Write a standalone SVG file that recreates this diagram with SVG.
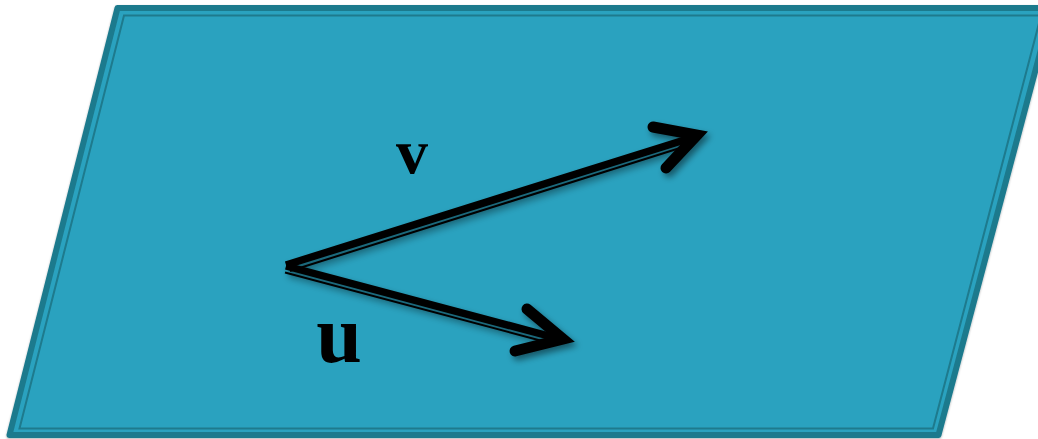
<svg xmlns="http://www.w3.org/2000/svg" width="1038" height="439" viewBox="0 0 1038 439">
<defs>
<filter id="sh" x="-20%" y="-20%" width="140%" height="140%">
<feDropShadow dx="3" dy="4" stdDeviation="3" flood-color="#000" flood-opacity="0.45"/>
</filter>
<filter id="psh" x="-5%" y="-5%" width="110%" height="110%">
<feDropShadow dx="0" dy="1" stdDeviation="1.2" flood-color="#000" flood-opacity="0.3"/>
</filter>
</defs>
<style>
.plane{fill:#2ba2bf;stroke:#1e7a8d;stroke-width:6;stroke-linejoin:round}
.inner{fill:none;stroke:#1e7a8d;stroke-width:2}
.thick{stroke:#000;stroke-width:7.5;stroke-linecap:butt;fill:none}
.thin{stroke:#000;stroke-width:2;fill:none}
.head{stroke:#000;stroke-width:11;stroke-linecap:round;stroke-linejoin:miter;fill:none}
.lbl{font-family:"Liberation Serif",serif;font-weight:bold;fill:#000;text-anchor:middle}
</style>
<g id="plane">
<polygon class="plane" filter="url(#psh)" points="117.5,8 1052,8 938.5,435 9.5,435"/>
<polygon class="inner" points="124,15.5 1041,15.5 933,428.5 19.5,428.5"/>
</g>
<g id="connectors" filter="url(#sh)">
<g id="arrow-v">
<line class="thick" x1="286" y1="265" x2="694" y2="137"/>
<line class="thin" x1="290" y1="271" x2="680" y2="148"/>
<polyline class="head" points="653,127 697,135 666,168"/>
</g>
<g id="arrow-u">
<line class="thick" x1="286" y1="266" x2="560" y2="339"/>
<line class="thin" x1="285" y1="272.5" x2="546" y2="342"/>
<polyline class="head" points="527,309 563,339 515,351"/>
</g>
</g>
<g id="label-v"><text class="lbl" x="412" y="173" font-size="64">v</text></g>
<g id="label-u"><text class="lbl" x="339" y="362" font-size="82">u</text></g>
</svg>
